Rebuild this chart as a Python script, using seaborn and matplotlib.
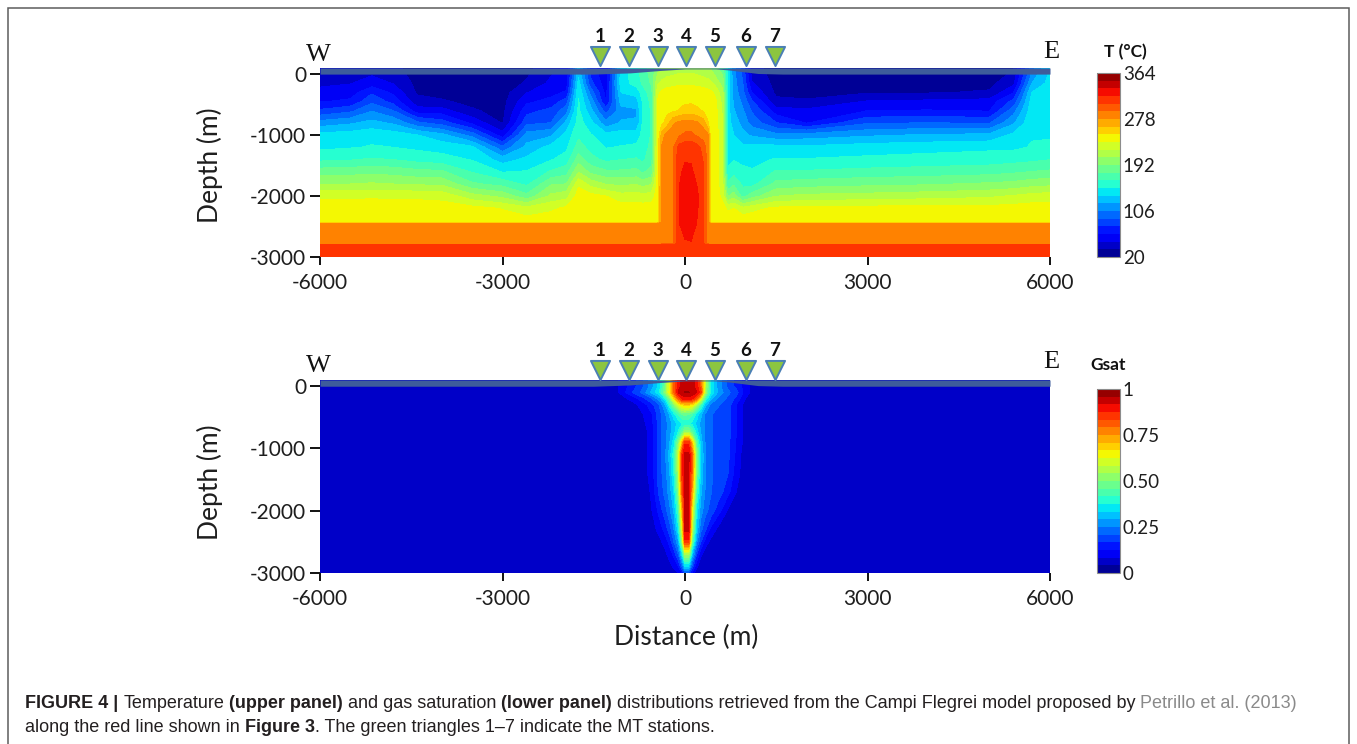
import numpy as np
import matplotlib
matplotlib.use("Agg")
import matplotlib.pyplot as plt
from matplotlib.patches import Rectangle
import seaborn as sns

# ---------------------------------------------------------------- data
# Temperature section: distance nodes (m), depth nodes (m) and one
# temperature profile (deg C) per distance node, listed top to bottom.
T_X = [-6000, -5500, -5150, -4800, -4400, -4000, -3500, -3000, -2600, -2200,
       -1950, -1750, -1550, -1300, -1050, -800, -700, -550, -450, -380,
       -300, -200, -100, 0, 100, 200, 300, 380, 420, 500,
       620, 700, 800, 950, 1100, 1500, 2000, 3000, 4000, 5000,
       5400, 5700, 6000]
T_DEPTH = [100, -150, -300, -450, -600, -800, -1000, -1200, -1400, -1600,
           -1800, -2000, -2200, -2430, -2460, -2780, -2810, -3000]
T_PROFILES = [
    [40, 44, 55, 62, 80, 112, 140, 146, 160, 185, 205, 232, 242, 246, 282, 286, 314, 316],
    [40, 48, 56, 66, 88, 118, 142, 148, 162, 186, 206, 232, 242, 246, 282, 286, 314, 316],
    [42, 55, 75, 88, 105, 125, 145, 150, 165, 188, 208, 233, 242, 246, 282, 286, 314, 316],
    [38, 48, 60, 72, 92, 118, 142, 149, 163, 186, 206, 232, 242, 246, 282, 286, 314, 316],
    [28, 30, 32, 40, 55, 95, 135, 146, 158, 182, 204, 232, 242, 246, 282, 286, 314, 316],
    [27, 28, 30, 36, 55, 85, 125, 143, 155, 180, 203, 230, 242, 246, 282, 286, 314, 316],
    [27, 28, 30, 31, 36, 60, 100, 138, 148, 162, 180, 212, 240, 246, 282, 286, 314, 316],
    [26, 27, 28, 29, 30, 33, 55, 95, 128, 148, 172, 202, 234, 244, 282, 286, 314, 316],
    [30, 36, 48, 60, 72, 88, 112, 125, 138, 150, 160, 182, 225, 243, 282, 286, 314, 316],
    [45, 52, 58, 68, 82, 92, 118, 140, 148, 165, 190, 210, 232, 244, 282, 286, 314, 316],
    [50, 55, 65, 85, 100, 125, 140, 146, 155, 172, 192, 215, 238, 246, 282, 286, 314, 316],
    [125, 140, 147, 150, 152, 155, 160, 170, 185, 205, 232, 242, 245, 246, 282, 286, 314, 316],
    [70, 82, 100, 115, 125, 140, 150, 158, 168, 188, 215, 240, 244, 246, 282, 286, 314, 316],
    [50, 54, 58, 62, 85, 110, 140, 148, 160, 180, 205, 235, 244, 246, 282, 286, 314, 316],
    [140, 142, 135, 126, 115, 122, 142, 150, 163, 180, 203, 226, 242, 246, 282, 286, 314, 316],
    [160, 155, 140, 128, 118, 122, 142, 152, 165, 182, 205, 228, 242, 246, 282, 286, 314, 316],
    [170, 165, 155, 150, 150, 150, 152, 155, 160, 175, 200, 225, 242, 246, 282, 286, 314, 316],
    [185, 180, 172, 168, 165, 165, 165, 168, 172, 182, 205, 228, 242, 246, 282, 286, 314, 316],
    [200, 218, 232, 236, 238, 238, 238, 240, 240, 240, 240, 242, 244, 246, 282, 286, 314, 316],
    [205, 225, 238, 242, 244, 246, 270, 280, 281, 282, 282, 282, 283, 284, 284, 286, 314, 316],
    [210, 228, 242, 244, 246, 255, 283, 288, 288, 288, 288, 288, 288, 288, 288, 288, 314, 316],
    [212, 230, 243, 245, 247, 275, 286, 290, 290, 290, 290, 290, 290, 290, 290, 290, 314, 316],
    [214, 232, 244, 246, 250, 282, 290, 312, 316, 318, 320, 320, 320, 320, 320, 318, 318, 318],
    [215, 232, 245, 247, 255, 284, 295, 316, 320, 324, 328, 330, 330, 328, 328, 319, 318, 318],
    [215, 232, 245, 247, 256, 284, 296, 316, 320, 323, 328, 332, 332, 328, 328, 320, 318, 318],
    [213, 230, 244, 246, 252, 280, 290, 312, 315, 317, 320, 324, 323, 320, 320, 318, 318, 318],
    [210, 228, 243, 245, 248, 272, 286, 300, 306, 308, 308, 308, 308, 308, 308, 308, 314, 316],
    [207, 226, 240, 243, 245, 250, 280, 284, 285, 285, 285, 285, 285, 285, 285, 286, 314, 316],
    [205, 224, 238, 242, 244, 245, 246, 246, 246, 246, 246, 246, 246, 246, 282, 286, 314, 316],
    [195, 215, 232, 238, 240, 242, 243, 243, 243, 243, 243, 244, 244, 246, 282, 286, 314, 316],
    [185, 200, 210, 215, 218, 220, 222, 222, 222, 222, 224, 230, 240, 246, 282, 286, 314, 316],
    [145, 145, 143, 142, 142, 142, 142, 142, 145, 152, 165, 190, 232, 246, 282, 286, 314, 316],
    [110, 112, 115, 118, 122, 128, 135, 142, 148, 158, 175, 200, 235, 246, 282, 286, 314, 316],
    [85, 92, 96, 102, 108, 115, 125, 138, 146, 152, 160, 172, 225, 246, 282, 286, 314, 316],
    [40, 50, 62, 80, 90, 100, 118, 140, 146, 150, 158, 185, 230, 246, 282, 286, 314, 316],
    [28, 29, 31, 38, 55, 78, 110, 140, 150, 165, 182, 206, 238, 246, 282, 286, 314, 316],
    [27, 28, 30, 36, 52, 62, 112, 138, 150, 165, 185, 210, 240, 246, 282, 286, 314, 316],
    [28, 29, 33, 50, 63, 90, 118, 142, 152, 168, 188, 212, 240, 246, 282, 286, 314, 316],
    [28, 29, 33, 52, 64, 92, 122, 144, 154, 170, 190, 215, 240, 246, 282, 286, 314, 316],
    [28, 30, 36, 54, 62, 90, 124, 146, 156, 172, 194, 218, 240, 246, 282, 286, 314, 316],
    [33, 45, 62, 82, 100, 118, 138, 146, 158, 175, 196, 222, 241, 246, 282, 286, 314, 316],
    [100, 120, 135, 140, 143, 146, 148, 150, 160, 178, 200, 226, 242, 246, 282, 286, 314, 316],
    [135, 140, 143, 145, 146, 147, 148, 151, 163, 180, 202, 228, 242, 246, 282, 286, 314, 316],
]

# Gas saturation section: distance nodes, depth nodes and one row of
# saturation values per depth node.
G_X = [-6000, -1400, -1100, -850, -700, -550, -420, -330, -250, -180, -110, -50, 0,
       60, 120, 190, 260, 340, 430, 550, 700, 850, 1000, 1150, 1400, 6000]
G_DEPTH = [100, 0, -100, -200, -300, -450, -600, -750, -900, -1100, -1400, -1700,
           -2000, -2300, -2500, -2700, -2900, -3000]
G_ROWS = [
    [.05, .05, .08, .15, .20, .27, .35, .48, .65, .80, .90, .93, .94, .94, .93, .90, .80, .55, .36, .27, .20, .15, .10, .06, .05, .05],
    [.05, .05, .08, .15, .20, .27, .35, .48, .65, .80, .90, .93, .94, .94, .93, .90, .80, .55, .36, .27, .20, .15, .10, .06, .05, .05],
    [.05, .05, .08, .17, .22, .30, .37, .50, .65, .80, .92, .95, .96, .96, .95, .92, .85, .52, .36, .28, .22, .18, .10, .06, .05, .05],
    [.05, .05, .06, .10, .15, .20, .27, .36, .50, .66, .80, .88, .90, .90, .88, .80, .62, .40, .30, .24, .20, .15, .08, .05, .05, .05],
    [.05, .05, .05, .07, .10, .15, .21, .28, .40, .50, .60, .66, .68, .68, .65, .55, .42, .30, .23, .21, .19, .12, .06, .05, .05, .05],
    [.05, .05, .05, .05, .08, .12, .19, .24, .30, .36, .42, .46, .47, .46, .42, .36, .30, .24, .21, .20, .19, .12, .06, .05, .05, .05],
    [.05, .05, .05, .05, .07, .11, .19, .23, .27, .31, .35, .37, .38, .38, .36, .32, .28, .24, .21, .20, .19, .12, .06, .05, .05, .05],
    [.05, .05, .05, .05, .06, .10, .19, .23, .28, .32, .38, .46, .55, .55, .46, .36, .29, .24, .21, .20, .19, .12, .06, .05, .05, .05],
    [.05, .05, .05, .05, .06, .10, .19, .23, .29, .36, .50, .68, .86, .86, .68, .45, .31, .24, .21, .20, .18, .12, .06, .05, .05, .05],
    [.05, .05, .05, .05, .06, .10, .19, .24, .31, .40, .58, .85, .93, .93, .80, .50, .33, .25, .21, .20, .18, .11, .05, .05, .05, .05],
    [.05, .05, .05, .05, .06, .10, .19, .23, .29, .38, .55, .85, .93, .93, .78, .48, .32, .25, .21, .20, .17, .10, .05, .05, .05, .05],
    [.05, .05, .05, .05, .05, .09, .18, .22, .27, .34, .50, .80, .92, .92, .72, .42, .30, .24, .21, .19, .14, .08, .05, .05, .05, .05],
    [.05, .05, .05, .05, .05, .08, .14, .19, .24, .30, .42, .70, .92, .92, .62, .36, .27, .22, .19, .14, .08, .05, .05, .05, .05, .05],
    [.05, .05, .05, .05, .05, .06, .10, .14, .19, .25, .36, .60, .93, .93, .55, .32, .22, .17, .11, .07, .05, .05, .05, .05, .05, .05],
    [.05, .05, .05, .05, .05, .05, .07, .10, .14, .21, .28, .50, .86, .86, .45, .26, .17, .10, .07, .05, .05, .05, .05, .05, .05, .05],
    [.05, .05, .05, .05, .05, .05, .05, .07, .10, .14, .21, .34, .55, .55, .30, .17, .09, .06, .05, .05, .05, .05, .05, .05, .05, .05],
    [.05, .05, .05, .05, .05, .05, .05, .05, .07, .09, .12, .20, .32, .32, .18, .09, .06, .05, .05, .05, .05, .05, .05, .05, .05, .05],
    [.05, .05, .05, .05, .05, .05, .05, .05, .05, .06, .08, .12, .20, .20, .11, .06, .05, .05, .05, .05, .05, .05, .05, .05, .05, .05],
]

# Ground surface (top of the cover layer drawn above it)
SURFACE_X = [-6000, -1500, -900, -400, 0, 500, 700, 1200, 1600, 6000]
SURFACE_Z = [0, 0, 20, 60, 85, 85, 70, 10, 0, 0]

# MT stations
STATION_X = [-1400, -920, -450, 20, 490, 1000, 1480]
STATION_ID = ["1", "2", "3", "4", "5", "6", "7"]

DIST_TICKS = [-6000, -3000, 0, 3000, 6000]
DEPTH_TICKS = [0, -1000, -2000, -3000]
T_RANGE = (20, 364)
T_TICKS = [20, 106, 192, 278, 364]
G_RANGE = (0, 1)
G_TICKS = [0, 0.25, 0.5, 0.75, 1]
G_TICK_LABELS = ["0", "0.25", "0.50", "0.75", "1"]
N_BANDS = 24

CAPTION_1 = [("FIGURE 4 |", "bold", "#231f20"),
             ("Temperature", "normal", "#231f20"),
             ("(upper panel)", "bold", "#231f20"),
             ("and gas saturation", "normal", "#231f20"),
             ("(lower panel)", "bold", "#231f20"),
             ("distributions retrieved from the Campi Flegrei model proposed by", "normal", "#231f20"),
             ("Petrillo et al. (2013)", "normal", "#8a8a8a")]
CAPTION_2 = [("along the red line shown in", "normal", "#231f20"),
             ("Figure 3", "bold", "#231f20"),
             (". The green triangles 1\u20137 indicate the MT stations.", "normal", "#231f20")]

# ---------------------------------------------------------------- style
sns.set_theme(style="white")
plt.rcParams["font.family"] = ["Lato", "DejaVu Sans"]
plt.rcParams["axes.unicode_minus"] = False

W, H = 1357, 744
fig = plt.figure(figsize=(W / 100, H / 100), dpi=100)
fig.patch.set_facecolor("white")


def px_box(left, top, right, bottom):
    return [left / W, 1 - bottom / H, (right - left) / W, (bottom - top) / H]


BAND = "#3e5c9b"
TRI_FACE = "#8cc540"
TRI_EDGE = "#4a7fb5"
TEXT = "#1e1e1e"


def draw_section(ax, xs, zs, field, vrange, cmap_name):
    levels = np.linspace(vrange[0], vrange[1], N_BANDS + 1)
    cf = ax.contourf(xs, zs, field, levels=levels, cmap=cmap_name, antialiased=False)
    ax.fill_between(SURFACE_X, SURFACE_Z, 100, color=BAND, lw=0, zorder=3)
    ax.set_xlim(-6000, 6000)
    ax.set_ylim(-3000, 100)
    ax.set_xticks(DIST_TICKS, labels=[str(v) for v in DIST_TICKS])
    ax.set_yticks(DEPTH_TICKS, labels=[str(v) for v in DEPTH_TICKS])
    for s in ax.spines.values():
        s.set_visible(False)
    ax.grid(False)
    ax.tick_params(axis="both", bottom=True, left=True, direction="out",
                   color="#111111", width=1.4, labelsize=15, labelcolor=TEXT)
    ax.tick_params(axis="x", length=6, pad=5.5)
    ax.tick_params(axis="y", length=7, pad=3)
    ax.set_xlabel("")
    ax.set_ylabel("")
    return cf


def draw_stations(ax, tri_y, num_y):
    sns.scatterplot(x=STATION_X, y=[tri_y] * len(STATION_X), ax=ax, marker="v",
                    s=190, color=TRI_FACE, edgecolor=TRI_EDGE, linewidth=1.4,
                    clip_on=False, zorder=6, legend=False)
    for sx, sid in zip(STATION_X, STATION_ID):
        ax.text(sx, num_y, sid, ha="center", va="center", fontsize=13.5,
                fontweight="bold", color="#111111", clip_on=False)


def style_cbar(cb, ticks, labels):
    cb.set_ticks(ticks, labels=labels)
    cb.ax.tick_params(length=0, pad=2, labelsize=13.5, labelcolor=TEXT)
    cb.outline.set_edgecolor("#8c8c8c")
    cb.outline.set_linewidth(0.8)


# ---------------------------------------------------------------- upper panel
ax_t = fig.add_axes(px_box(320, 68, 1050, 257))
T_grid = np.array(T_PROFILES, dtype=float).T
cf_t = draw_section(ax_t, T_X, T_DEPTH, T_grid, T_RANGE, "jet")
draw_stations(ax_t, 300, 622)

cax_t = fig.add_axes(px_box(1097, 73, 1120, 257))
cb_t = fig.colorbar(cf_t, cax=cax_t)
style_cbar(cb_t, T_TICKS, [str(v) for v in T_TICKS])
fig.text(1125 / W, 1 - 52 / H, "T (\u00b0C)", ha="center", va="center",
         fontsize=12.5, fontweight="bold", color="#111111")

# ---------------------------------------------------------------- lower panel
ax_g = fig.add_axes(px_box(320, 380, 1050, 573))
G_grid = np.array(G_ROWS, dtype=float)
cf_g = draw_section(ax_g, G_X, G_DEPTH, G_grid, G_RANGE, "jet")
draw_stations(ax_g, 262, 567)

cax_g = fig.add_axes(px_box(1097, 389, 1120, 573))
cb_g = fig.colorbar(cf_g, cax=cax_g)
style_cbar(cb_g, G_TICKS, G_TICK_LABELS)
fig.text(1108 / W, 1 - 365 / H, "Gsat", ha="center", va="center",
         fontsize=12.5, fontweight="bold", color="#111111")

# compass letters and axis titles
for (x, y, s) in [(318, 55, "W"), (1051, 52, "E"), (318, 366, "W"), (1051, 362, "E")]:
    fig.text(x / W, 1 - y / H, s, ha="center", va="center", fontsize=19,
             family="Liberation Serif", color="#111111")
for y in (165, 482):
    fig.text(210 / W, 1 - y / H, "Depth (m)", rotation=90, ha="center",
             va="center", fontsize=19, color=TEXT)
fig.text(686 / W, 1 - 637 / H, "Distance (m)", ha="center", va="center",
         fontsize=19, color=TEXT)

# ---------------------------------------------------------------- caption
CAP_FONT = ["Liberation Sans Narrow", "Liberation Sans", "DejaVu Sans"]
CAP_SIZE = 13
renderer = fig.canvas.get_renderer()


def text_width(s, weight):
    t = fig.text(0, 0, s, fontsize=CAP_SIZE, fontweight=weight, family=CAP_FONT)
    w = t.get_window_extent(renderer=renderer).width
    t.remove()
    return w


space_w = text_width("a a", "normal") - text_width("aa", "normal")


def rich_line(parts, x_px, y_px):
    x = x_px
    for i, (s, weight, color) in enumerate(parts):
        if i > 0 and not s.startswith("."):
            x += space_w
        t = fig.text(x / W, 1 - y_px / H, s, fontsize=CAP_SIZE, fontweight=weight,
                     color=color, family=CAP_FONT, va="baseline", ha="left")
        x += t.get_window_extent(renderer=renderer).width


rich_line(CAPTION_1, 25, 708)
rich_line(CAPTION_2, 25, 732)

# outer frame
fig.add_artist(Rectangle((8 / W, -0.02), (1349 - 8) / W, 1 - 8 / H + 0.02,
                         transform=fig.transFigure, fill=False,
                         edgecolor="#5c5c5c", linewidth=1.1))

fig.savefig("out.png", dpi=100, facecolor="white")
